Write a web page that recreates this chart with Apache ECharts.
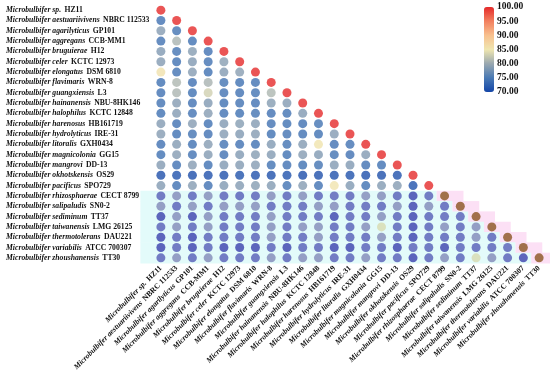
<!DOCTYPE html>
<html><head><meta charset="utf-8">
<script src="https://cdn.jsdelivr.net/npm/echarts@6/dist/echarts.min.js"></script>
<style>html,body{margin:0;padding:0;background:#fff}#c{width:550px;height:376px}</style>
</head><body><div id="c"></div>
<script>
const genus = 'Microbulbifer';
const species = ['sp.','aestuariivivens','agarilyticus','aggregans','bruguierae','celer','elongatus','flavimaris','guangxiensis','hainanensis','halophilus','harenosus','hydrolyticus','litoralis','magnicolonia','mangrovi','okhotskensis','pacificus','rhizosphaerae','salipaludis','sediminum','taiwanensis','thermotolerans','variabilis','zhoushanensis'];
const strains = ['HZ11','NBRC 112533','GP101','CCB-MM1','H12','KCTC 12973','DSM 6810','WRN-8','L3','NBU-8HK146','KCTC 12848','HB161719','IRE-31','GXH0434','GG15','DD-13','OS29','SPO729','CECT 8799','SN0-2','TT37','LMG 26125','DAU221','ATCC 700307','TT30'];
const colorbarTicks = [70, 75, 80, 85, 90, 95, 100];

const r01 = [100];
const r02 = [74.1, 100];
const r03 = [78.6, 74.3, 100];
const r04 = [74.2, 80.9, 74.0, 100];
const r05 = [78.4, 74.3, 78.7, 74.1, 100];
const r06 = [78.5, 74.0, 78.3, 74.2, 78.8, 100];
const r07 = [85.6, 74.2, 78.6, 74.0, 78.5, 78.9, 100];
const r08 = [74.0, 81.2, 74.1, 80.8, 74.3, 74.0, 74.2, 100];
const r09 = [74.1, 81.0, 74.0, 83.2, 74.2, 74.1, 74.3, 81.1, 100];
const r10 = [74.2, 78.6, 74.1, 78.4, 74.0, 74.2, 74.1, 78.7, 78.5, 100];
const r11 = [74.0, 78.5, 74.2, 78.6, 74.1, 74.0, 74.3, 74.1, 74.2, 78.4, 100];
const r12 = [78.5, 74.1, 78.6, 74.0, 78.4, 78.7, 78.5, 74.2, 74.0, 74.1, 74.3, 100];
const r13 = [78.6, 74.0, 74.3, 74.1, 78.5, 78.4, 78.6, 74.0, 74.2, 74.1, 74.0, 78.5, 100];
const r14 = [74.1, 78.5, 74.0, 78.6, 74.2, 74.1, 74.0, 78.4, 74.3, 78.5, 85.4, 74.1, 74.2, 100];
const r15 = [74.0, 78.6, 74.2, 78.5, 74.1, 78.4, 78.7, 78.5, 74.0, 78.6, 78.4, 74.2, 74.1, 78.5, 100];
const r16 = [78.5, 74.1, 78.6, 74.0, 78.4, 78.5, 78.6, 74.2, 74.1, 74.0, 74.3, 78.5, 78.4, 74.1, 74.0, 100];
const r17 = [71.0, 71.2, 70.9, 71.1, 71.0, 71.3, 71.1, 71.0, 71.2, 70.8, 71.0, 71.1, 71.2, 70.9, 71.0, 71.1, 100];
const r18 = [78.5, 74.0, 78.6, 74.1, 78.4, 78.5, 78.7, 78.5, 74.2, 78.6, 74.1, 85.3, 78.4, 74.0, 78.5, 78.6, 71.2, 100];
const r19 = [74.5, 78.5, 74.4, 78.6, 74.5, 74.3, 74.6, 78.4, 74.5, 78.5, 74.4, 74.6, 74.5, 78.6, 78.5, 74.4, 71.5, 74.6, 100];
const r20 = [78.5, 74.4, 78.6, 74.5, 78.4, 78.5, 78.6, 74.5, 74.4, 74.6, 78.5, 78.4, 74.5, 74.6, 74.4, 78.5, 71.6, 78.5, 74.5, 100];
const r21 = [71.6, 78.5, 71.5, 78.4, 74.5, 74.4, 74.6, 78.5, 74.5, 74.4, 74.6, 71.7, 74.5, 74.4, 78.5, 74.5, 71.5, 74.4, 74.6, 74.5, 100];
const r22 = [74.5, 78.6, 74.4, 78.5, 74.5, 74.6, 74.4, 78.5, 74.5, 78.4, 78.6, 74.5, 74.4, 78.5, 84.5, 74.5, 71.6, 74.4, 78.5, 74.6, 78.4, 100];
const r23 = [71.6, 74.5, 71.5, 74.6, 74.4, 74.5, 74.5, 78.5, 74.4, 74.6, 78.5, 74.5, 74.4, 74.5, 78.6, 74.5, 71.5, 74.4, 74.5, 74.6, 78.5, 74.4, 100];
const r24 = [71.5, 74.5, 71.6, 74.4, 71.5, 71.6, 71.5, 74.5, 71.6, 74.4, 74.5, 71.5, 71.6, 74.5, 74.4, 71.5, 74.5, 74.4, 71.6, 74.5, 74.4, 74.5, 74.6, 100];
const r25 = [74.5, 78.5, 74.4, 78.6, 74.5, 74.4, 74.6, 78.5, 74.5, 78.4, 78.6, 74.5, 74.4, 78.5, 74.5, 74.4, 71.5, 74.5, 78.5, 74.4, 84.5, 78.5, 74.5, 71.6, 100];
const matrixRows = [r01,r02,r03,r04,r05,r06,r07,r08,r09,r10,r11,r12,r13,r14,r15,r16,r17,r18,r19,r20,r21,r22,r23,r24,r25];
const lowerStart = 18; // rows 19..25 form the shaded lower block

const names = species.map((s, i) => genus + ' ' + s + ' ' + strains[i]);
const upperData = [], lowerData = [];
matrixRows.forEach((row, r) => {
  row.forEach((v, c) => {
    (r >= lowerStart ? lowerData : upperData).push([c, r, v]);
  });
});
const bgData = [];
for (let r = lowerStart; r < names.length; r++) bgData.push([r, r]);

const serif = '"Liberation Serif","Times New Roman",serif';
function fmt(val) {
  const i = names.indexOf(val);
  return '{i|' + genus + ' ' + species[i] + '} {n|' + strains[i] + '}';
}
const rich = {
  i: {fontFamily: serif, fontStyle: 'italic', fontWeight: 'bold', fontSize: 7.7, color: '#111'},
  n: {fontFamily: serif, fontWeight: 'bold', fontSize: 7.7, color: '#111'}
};

const chart = echarts.init(document.getElementById('c'));
chart.setOption({
  animation: false,
  grid: [
    {left: 153, top: 5, width: 394, height: 258},
    {left: 484, top: 7, width: 10, height: 85}
  ],
  xAxis: [
    {type: 'category', data: names, gridIndex: 0, axisLine: {show: false}, axisTick: {show: false}, splitLine: {show: false},
     axisLabel: {interval: 0, rotate: 45, margin: 4, formatter: fmt, rich: rich}},
    {type: 'value', gridIndex: 1, show: false, min: 0, max: 1}
  ],
  yAxis: [
    {type: 'category', data: names, inverse: true, gridIndex: 0, axisLine: {show: false}, axisTick: {show: false}, splitLine: {show: false},
     axisLabel: {interval: 0, align: 'left', margin: 147, formatter: fmt, rich: rich}},
    {type: 'value', gridIndex: 1, min: colorbarTicks[0], max: colorbarTicks[colorbarTicks.length - 1], interval: 5, position: 'right',
     axisLine: {show: false}, axisTick: {show: false}, splitLine: {show: false},
     axisLabel: {margin: 3, formatter: v => v.toFixed(2), fontFamily: serif, fontWeight: 'bold', fontSize: 9.5, color: '#111'}}
  ],
  visualMap: [
    {type: 'continuous', seriesIndex: 1, min: 70, max: 100, show: true, calculable: false, left: 484, top: 7, padding: 0,
     itemWidth: 10, itemHeight: 85, text: null, showLabel: false, hoverLink: false,
     inRange: {color: ['#1446a8', '#4a7ab4', '#9aa8b0', '#efe6b0', '#f8c08e', '#f2805f', '#e52a2a']}},
    {type: 'continuous', seriesIndex: 2, min: 70, max: 100, show: false,
     inRange: {color: ['#2a30a8', '#5a62b8', '#9098b8', '#dfe2ae', '#c0a070', '#a07840', '#8a5420']}}
  ],
  series: [
    {type: 'custom', xAxisIndex: 0, yAxisIndex: 0, data: bgData, silent: true, z: 1,
     renderItem: function (params, api) {
       const r = api.value(0), d = api.value(1);
       const left = api.coord([0, r]);
       const diag = api.coord([d, r]);
       const sz = api.size([1, 1]);
       const cw = sz[0], ch = sz[1];
       const y = diag[1] - ch / 2;
       const x0 = left[0] - cw * 1.3;
       const xd = diag[0] - cw / 2;
       const xe = Math.min(diag[0] + cw * 1.2, 550);
       return {type: 'group', children: [
         {type: 'rect', shape: {x: x0, y: y, width: xd - x0, height: ch + 0.5}, style: {fill: '#e3fbfa'}},
         {type: 'rect', shape: {x: xd, y: y, width: xe - xd, height: ch + 0.5}, style: {fill: '#fce0f5'}}
       ]};
     }},
    {type: 'scatter', xAxisIndex: 0, yAxisIndex: 0, data: upperData, symbolSize: 9, z: 3},
    {type: 'scatter', xAxisIndex: 0, yAxisIndex: 0, data: lowerData, symbolSize: 9, z: 3}
  ]
});
</script></body></html>
